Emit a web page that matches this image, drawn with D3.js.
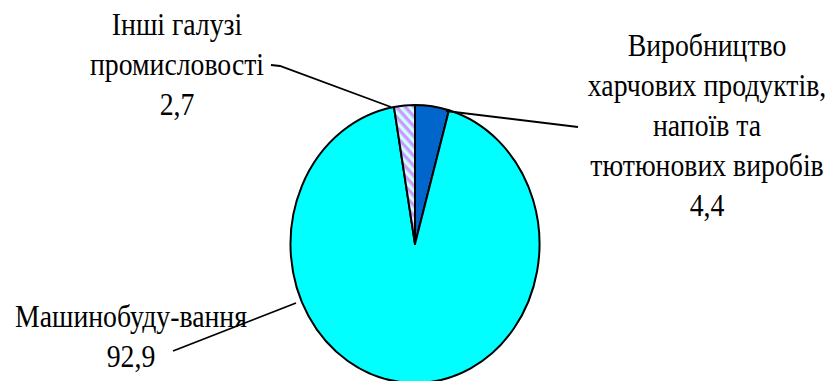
<!DOCTYPE html>
<html>
<head>
<meta charset="utf-8">
<script src="https://cdn.jsdelivr.net/npm/d3@7"></script>
</head>
<body style="margin:0">
<script>
// data (order = clockwise from 12 o'clock)
const categories = [
  "Виробництво харчових продуктів, напоїв та тютюнових виробів",
  "Машинобуду-вання",
  "Інші галузі промисловості"
];
const values = [4.4, 92.9, 2.7];
const valueLabels = ["4,4", "92,9", "2,7"];
// how each category label is broken into lines
const labelLines = [
  ["Виробництво", "харчових продуктів,", "напоїв та", "тютюнових виробів"],
  ["Машинобуду-вання"],
  ["Інші галузі", "промисловості"]
];

const W = 834, H = 381;
const cx = 415, cy = 244;
const ry = 139, rx = 124.5;
const sx = rx / ry;            // picture is squeezed horizontally
const fontSize = 31, lineH = 40;

// label layout: center x, first baseline, leader points
const layout = [
  { x: 707, y: 56, leader: [[578, 127], [446, 111]] },
  { x: 131, y: 327, leader: [[173, 351], [296, 303]] },
  { x: 177, y: 35, leader: [[271, 65], [280, 66], [391, 107]] }
];

const fills = ["#0066cc", "#00ffff", "url(#hatch)"];

function draw() {
  d3.select("body").selectAll("svg").remove();

  const svg = d3.select("body")
    .append("svg")
    .attr("width", W)
    .attr("height", H)
    .style("display", "block");

  const defs = svg.append("defs");
  const pat = defs.append("pattern")
    .attr("id", "hatch")
    .attr("patternUnits", "userSpaceOnUse")
    .attr("width", 7)
    .attr("height", 7)
    .attr("patternTransform", "rotate(45)");
  pat.append("rect").attr("width", 7).attr("height", 7).attr("fill", "#ccffff");
  pat.append("rect").attr("width", 7).attr("height", 3.5).attr("fill", "#cc99ff");

  const pie = d3.pie().sort(null).value(d => d);
  const arc = d3.arc().innerRadius(0).outerRadius(ry);

  const g = svg.append("g")
    .attr("transform", `translate(${cx},${cy}) scale(${sx},1)`);

  g.selectAll("path")
    .data(pie(values))
    .enter()
    .append("path")
    .attr("d", arc)
    .attr("fill", (d, i) => fills[i])
    .attr("stroke", "#000")
    .attr("stroke-width", 2)
    .attr("stroke-linejoin", "round")
    .attr("vector-effect", "non-scaling-stroke");

  const line = d3.line();
  svg.selectAll("path.leader")
    .data(layout)
    .enter()
    .append("path")
    .attr("class", "leader")
    .attr("d", d => line(d.leader))
    .attr("fill", "none")
    .attr("stroke", "#000")
    .attr("stroke-width", 1.8);

  const labels = svg.selectAll("g.label")
    .data(categories)
    .enter()
    .append("g")
    .attr("class", "label")
    .attr("transform", (d, i) => `translate(${layout[i].x},${layout[i].y}) scale(${sx},1)`);

  labels.each(function (d, i) {
    const lines = labelLines[i].concat([valueLabels[i]]);
    d3.select(this).selectAll("text")
      .data(lines)
      .enter()
      .append("text")
      .attr("text-anchor", "middle")
      .style("font-family", '"Liberation Serif", "Times New Roman", serif')
      .style("font-size", fontSize + "px")
      .attr("y", (t, j) => j * lineH)
      .text(t => t);
  });
}

draw();
// redraw once the serif face is surely available
if (document.fonts && document.fonts.load) {
  document.fonts.load(`${fontSize}px "Liberation Serif"`, "Машинобуду 92,9").then(draw, () => {});
}
</script>
</body>
</html>
